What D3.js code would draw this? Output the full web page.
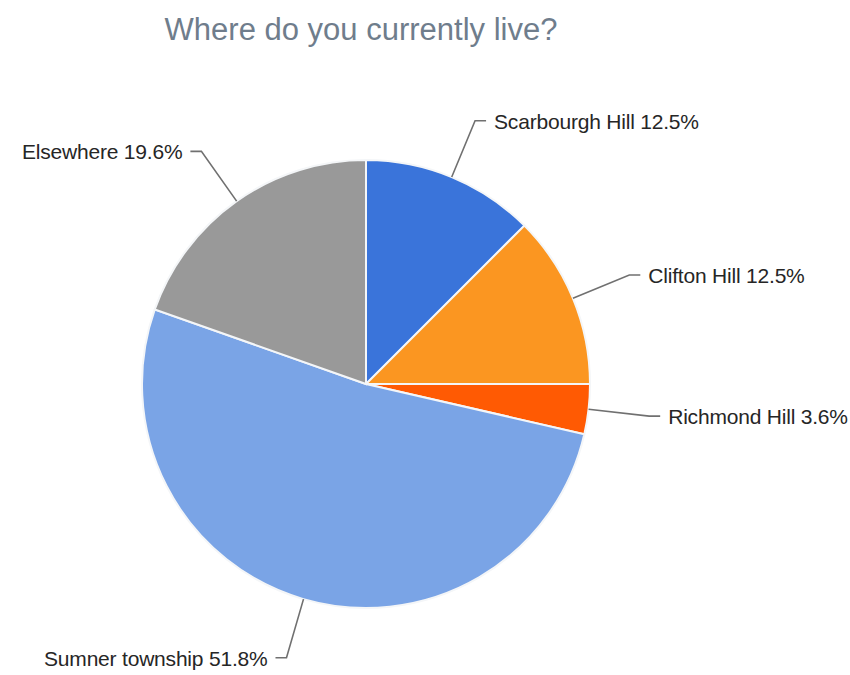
<!DOCTYPE html>
<html>
<head>
<meta charset="utf-8">
<script src="https://cdnjs.cloudflare.com/ajax/libs/d3/7.8.5/d3.min.js"></script>
<style>
  body { margin: 0; background: #fff; }
  text { font-family: "Liberation Sans", Arial, sans-serif; }
</style>
</head>
<body>
<script>
// data
var categories = ["Scarbourgh Hill", "Clifton Hill", "Richmond Hill", "Sumner township", "Elsewhere"];
var values = [12.5, 12.5, 3.6, 51.8, 19.6];
var colors = ["#3a74da", "#fb9621", "#ff5a03", "#7aa4e6", "#999999"];
var title = "Where do you currently live?";

var width = 850, height = 675;
var cx = 366, cy = 384, radius = 224;
var elbowRadius = 285;

var svg = d3.select("body").append("svg")
    .attr("width", width)
    .attr("height", height);

svg.append("text")
    .attr("x", 361)
    .attr("y", 40)
    .attr("text-anchor", "middle")
    .attr("fill", "#6f7d8c")
    .style("font-size", "31px")
    .text(title);

var slices = categories.map(function(c, i) {
    return { name: c, value: values[i], color: colors[i] };
});

var pie = d3.pie()
    .sort(null)
    .value(function(d) { return d.value; });

var arc = d3.arc()
    .innerRadius(0)
    .outerRadius(radius);

var g = svg.append("g")
    .attr("transform", "translate(" + cx + "," + cy + ")");

var arcs = pie(slices);

g.selectAll("path.slice")
    .data(arcs)
    .enter()
    .append("path")
    .attr("class", "slice")
    .attr("d", arc)
    .attr("fill", function(d) { return d.data.color; })
    .attr("stroke", "#f4f6f8")
    .attr("stroke-width", 2);

function pointAt(a, r) {
    return [Math.sin(a) * r, -Math.cos(a) * r];
}

var labels = g.selectAll("g.label")
    .data(arcs)
    .enter()
    .append("g")
    .attr("class", "label");

labels.each(function(d) {
    var mid = (d.startAngle + d.endAngle) / 2;
    var right = Math.sin(mid) > 0;
    var p0 = pointAt(mid, radius);
    var p1 = pointAt(mid, elbowRadius);
    var p2 = [p1[0] + (right ? 11 : -11), p1[1]];
    var sel = d3.select(this);

    sel.append("polyline")
        .attr("points", [p0, p1, p2].map(function(p) { return p.join(","); }).join(" "))
        .attr("fill", "none")
        .attr("stroke", "#707070")
        .attr("stroke-width", 1.6);

    sel.append("text")
        .attr("x", p2[0] + (right ? 8 : -8))
        .attr("y", p2[1] + 8)
        .attr("text-anchor", right ? "start" : "end")
        .attr("fill", "#262626")
        .style("font-size", "21px")
        .style("letter-spacing", "-0.2px")
        .text(d.data.name + " " + d.data.value.toFixed(1) + "%");
});
</script>
</body>
</html>
